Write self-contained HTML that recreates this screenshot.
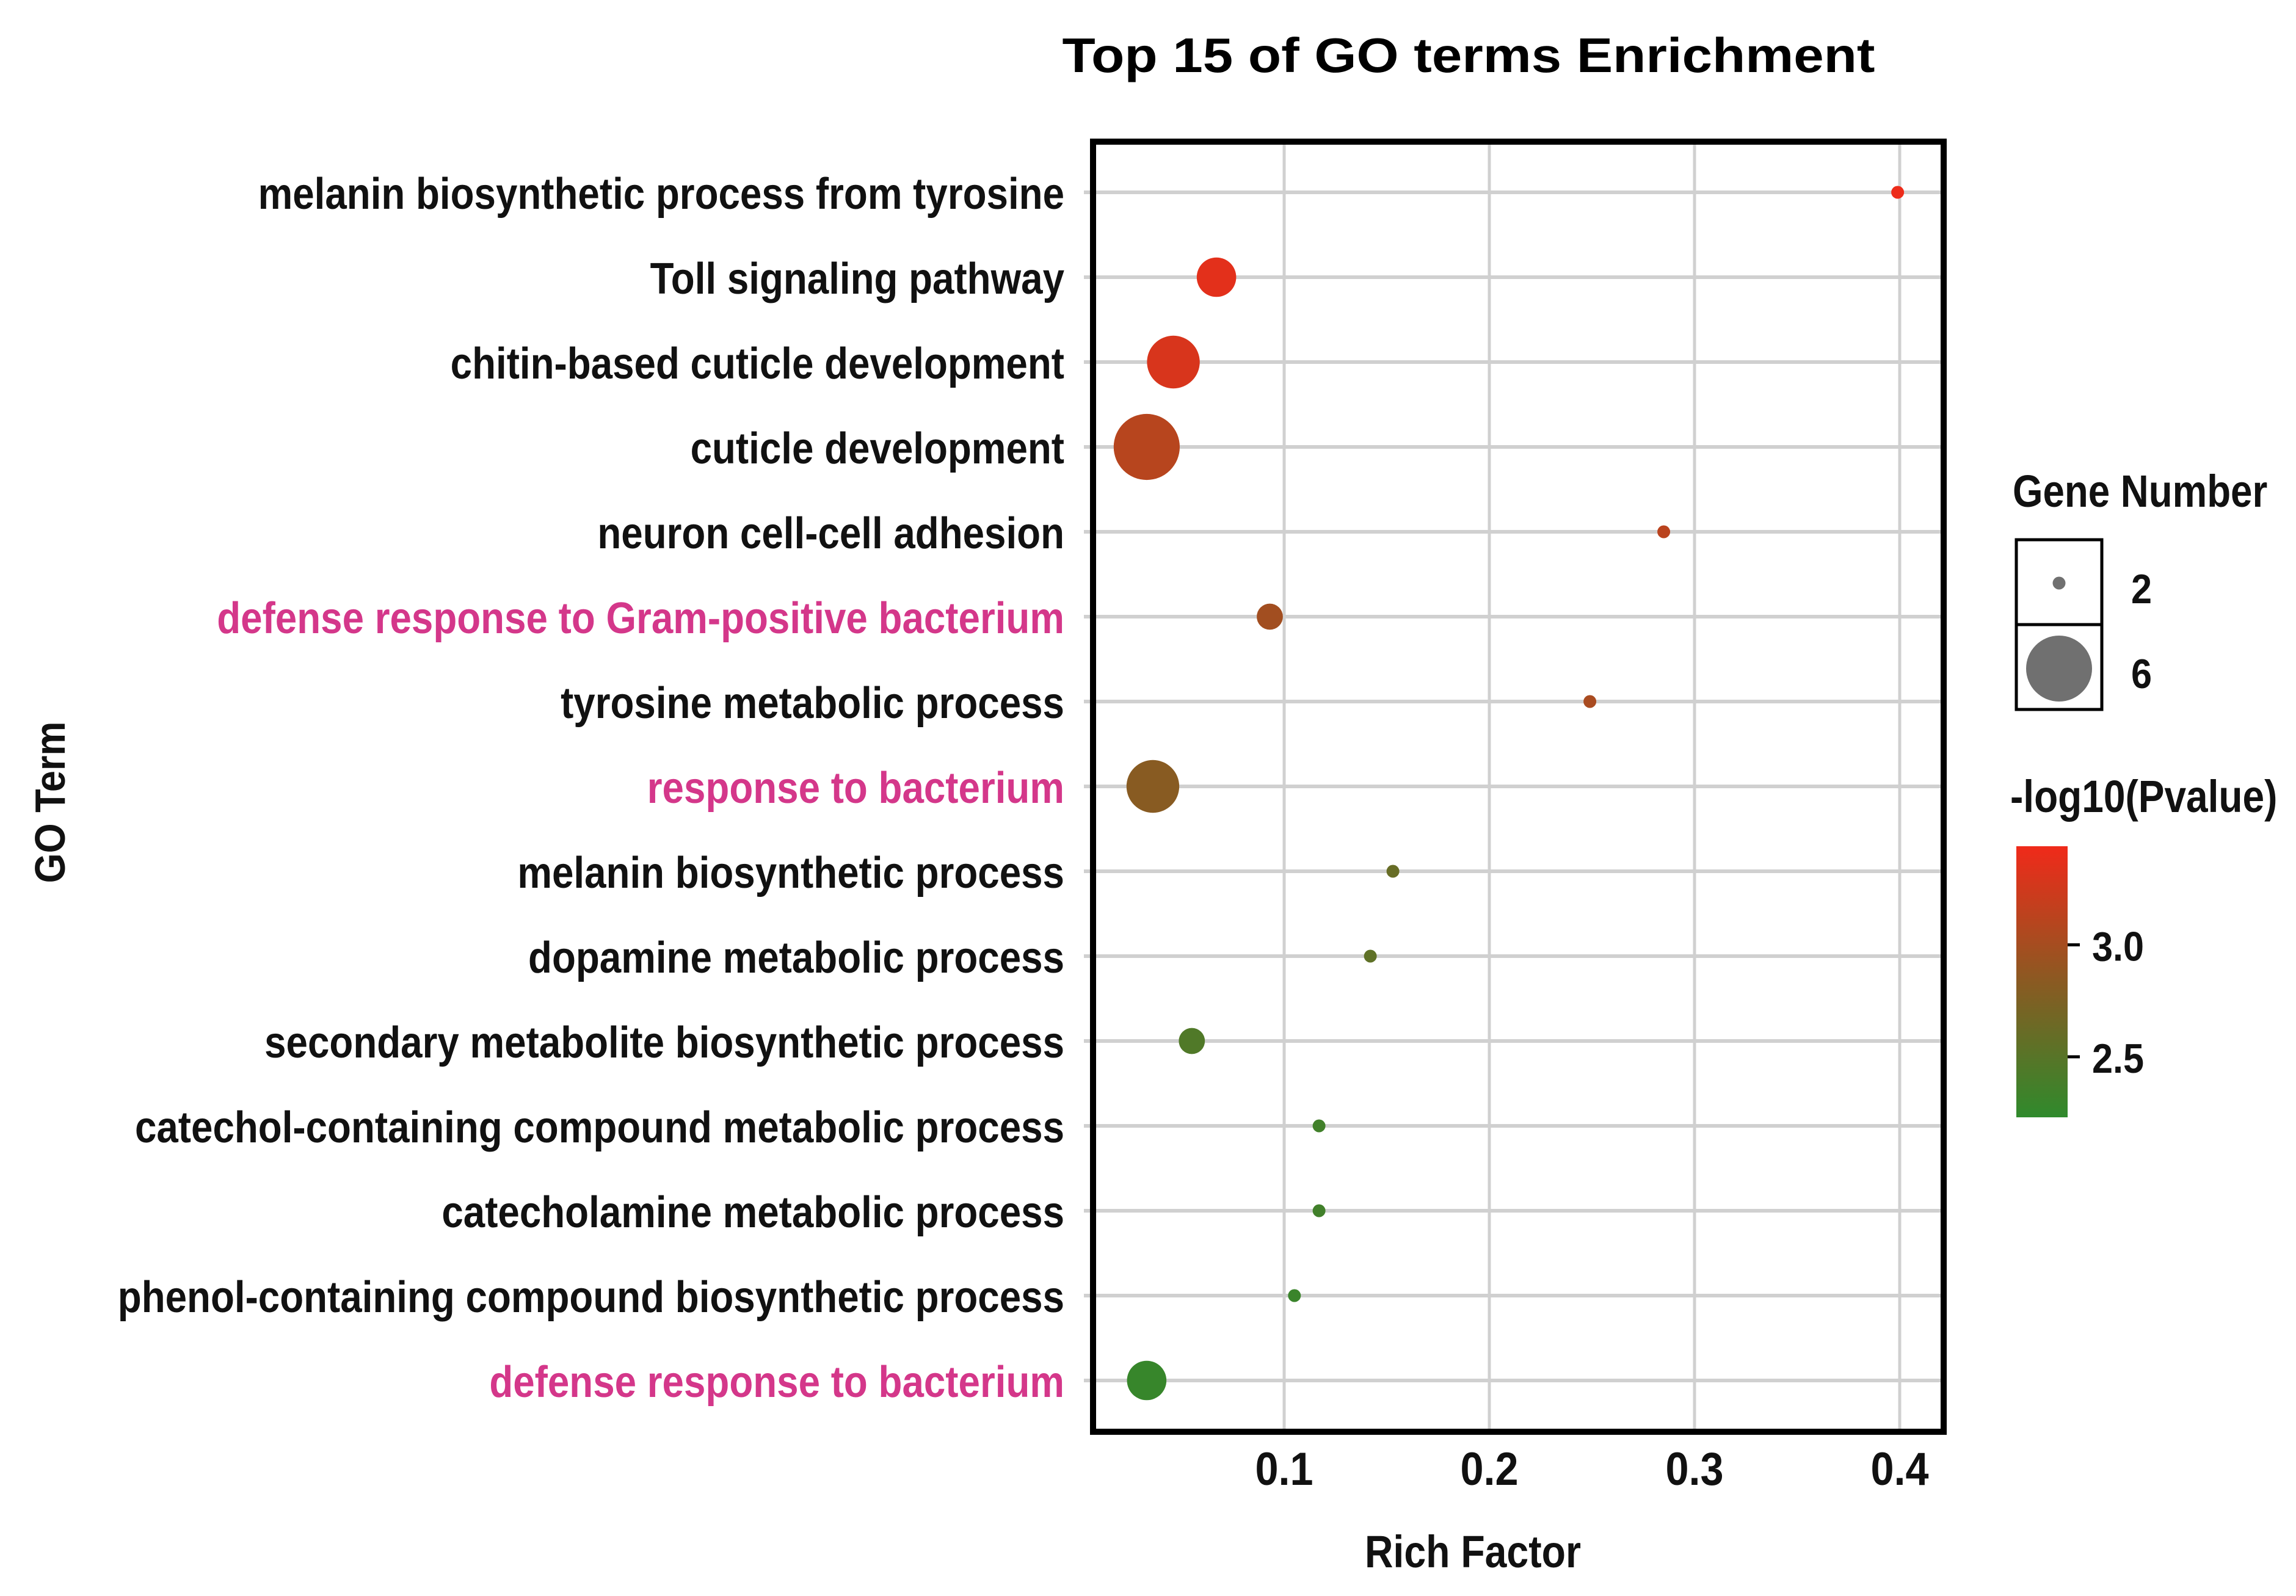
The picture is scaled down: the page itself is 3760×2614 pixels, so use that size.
<!DOCTYPE html>
<html><head><meta charset="utf-8"><style>
html,body{margin:0;padding:0;background:#fff}
svg{display:block}
text{font-family:"Liberation Sans",Arial,sans-serif;font-weight:bold}
</style></head><body>
<svg id="chart" width="3760" height="2614" viewBox="0 0 3760 2614" xmlns="http://www.w3.org/2000/svg">
<rect width="3760" height="2614" fill="#fff"/>
<text x="2405" y="118" text-anchor="middle" font-size="80" textLength="1331" lengthAdjust="spacingAndGlyphs" fill="#000">Top 15 of GO terms Enrichment</text>
<g id="grid"></g>
<g id="ylabels"></g>
<g id="xlabels"></g>
<g id="points"></g>
<rect x="1790" y="232" width="1393" height="2113" fill="none" stroke="#000" stroke-width="10"/>
<text transform="translate(2412,2567) scale(0.87,1)" text-anchor="middle" font-size="74" fill="#111">Rich Factor</text>
<text transform="translate(106,1314) rotate(-90) scale(0.9,1)" text-anchor="middle" font-size="70" fill="#111">GO Term</text>
<g>
<text transform="translate(3296,830) scale(0.86,1)" font-size="74" fill="#111">Gene Number</text>
<rect x="3302" y="884" width="140" height="278" fill="#fff" stroke="#000" stroke-width="5"/>
<line x1="3302" y1="1023" x2="3442" y2="1023" stroke="#000" stroke-width="5"/>
<circle cx="3372" cy="955" r="10.5" fill="#707070"/>
<circle cx="3372" cy="1095" r="54" fill="#707070"/>
<text transform="translate(3490,988) scale(0.9,1)" font-size="68" fill="#111">2</text>
<text transform="translate(3490,1127) scale(0.9,1)" font-size="68" fill="#111">6</text>
</g>
<defs><linearGradient id="cg" x1="0" y1="1" x2="0" y2="0">
<stop offset="0" stop-color="#2f8a2c"/><stop offset="0.5" stop-color="#8a5a22"/><stop offset="1" stop-color="#f02a1a"/></linearGradient></defs>
<g>
<text transform="translate(3292,1330) scale(0.865,1)" font-size="74" fill="#111">-log10(Pvalue)</text>
<rect x="3302" y="1386" width="84" height="444" fill="url(#cg)"/>
<g id="cticks"></g>
</g>
</svg>
<script>
const terms=["melanin biosynthetic process from tyrosine","Toll signaling pathway","chitin-based cuticle development","cuticle development","neuron cell-cell adhesion","defense response to Gram-positive bacterium","tyrosine metabolic process","response to bacterium","melanin biosynthetic process","dopamine metabolic process","secondary metabolite biosynthetic process","catechol-containing compound metabolic process","catecholamine metabolic process","phenol-containing compound biosynthetic process","defense response to bacterium"];
const highlighted=[false,false,false,false,false,true,false,true,false,false,false,false,false,false,true];
const richFactor=[0.399,0.067,0.046,0.033,0.285,0.093,0.249,0.036,0.153,0.142,0.055,0.117,0.117,0.105,0.033];
const geneNumber=[2,4,5,6,2,3,2,5,2,2,3,2,2,2,4];
const logP=[3.42,3.36,3.3,3.1,3.12,2.98,3.02,2.82,2.6,2.55,2.45,2.35,2.35,2.3,2.28];
const xTicks=[0.1,0.2,0.3,0.4];
const cTicks=[2.5,3.0];

const NS="http://www.w3.org/2000/svg";
function mk(tag,attrs,parent){const e=document.createElementNS(NS,tag);for(const k in attrs)e.setAttribute(k,attrs[k]);parent.appendChild(e);return e;}
const xS=v=>1767+v*3360;
const yS=i=>315+i*139;
const rS=n=>10.5+(n-2)*10.9;
const cMin=2.23,cMax=3.44;
const cY=v=>1830-(v-cMin)/(cMax-cMin)*444;
function lerp(a,b,t){return a.map((x,i)=>Math.round(x+(b[i]-x)*t));}
function color(v){let t=Math.max(0,Math.min(1,(v-cMin)/(cMax-cMin)));const g=[47,138,44],m=[138,90,34],r=[240,42,26];
 const c=t<0.5?lerp(g,m,t/0.5):lerp(m,r,(t-0.5)/0.5);return `rgb(${c[0]},${c[1]},${c[2]})`;}

const grid=document.getElementById('grid');
xTicks.forEach(v=>{const l=mk('line',{x1:xS(v),x2:xS(v),y1:232,y2:2345,stroke:'#d0d0d0','stroke-width':5},grid);
 
 });
terms.forEach((t,i)=>{const l=mk('line',{x1:1775,x2:3183,y1:yS(i),y2:yS(i),stroke:'#d0d0d0','stroke-width':6},grid);
 
 });

const yl=document.getElementById('ylabels');
const sx=0.885;
terms.forEach((t,i)=>{const e=mk('text',{transform:`translate(1743,${yS(i)+27}) scale(${sx},1)`,'text-anchor':'end','font-size':72,fill:highlighted[i]?'#d4378a':'#111'},yl);
 e.textContent=t;
 
 });

const xl=document.getElementById('xlabels');
xTicks.forEach(v=>{const e=mk('text',{transform:`translate(${xS(v)},2432) scale(0.9,1)`,'text-anchor':'middle','font-size':76,fill:'#111'},xl);
 e.textContent=v.toFixed(1);
 
 });

const pts=document.getElementById('points');
terms.forEach((t,i)=>{const c=mk('circle',{cx:xS(richFactor[i]),cy:yS(i),r:rS(geneNumber[i]),fill:color(logP[i])},pts);
 
 });

const ct=document.getElementById('cticks');
cTicks.forEach(v=>{const l=mk('line',{x1:3386,x2:3406,y1:cY(v),y2:cY(v),stroke:'#000','stroke-width':5},ct);
 
 
 const e=mk('text',{transform:`translate(3426,${cY(v)+26}) scale(0.9,1)`,'font-size':68,fill:'#111'},ct);
 e.textContent=v.toFixed(1);
 
 });
</script>
</body></html>
